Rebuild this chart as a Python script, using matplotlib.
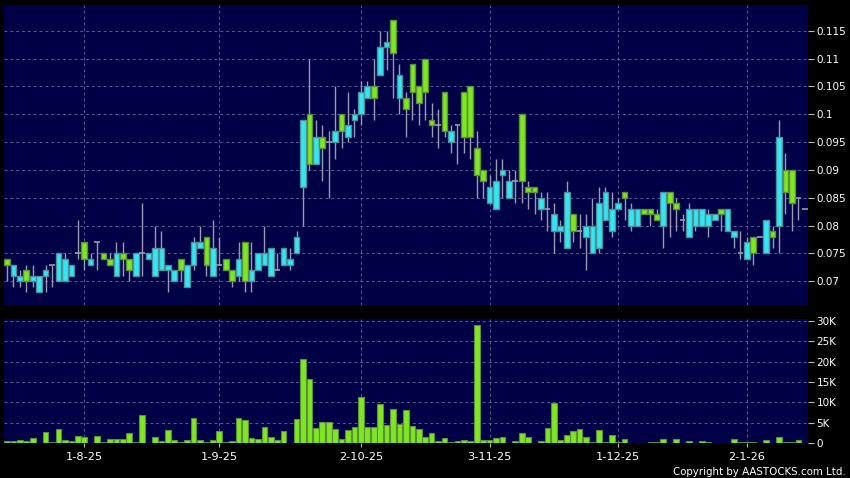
import matplotlib
matplotlib.use("Agg")
import matplotlib.pyplot as plt

# daily OHLC (HKD) and volume (thousand shares), mid-Jul 2025 .. mid-Jan 2026
opens = [0.074, 0.071, 0.070, 0.072, 0.070, 0.068, 0.071, 0.073, 0.070, 0.070,
         0.071, 0.075, 0.077, 0.073, 0.077, 0.075, 0.074, 0.071, 0.075, 0.074,
         0.071, 0.075, 0.074, 0.071, 0.072, 0.072, 0.070, 0.074, 0.069, 0.073,
         0.076, 0.078, 0.071, 0.073, 0.074, 0.072, 0.071, 0.077, 0.070, 0.072,
         0.073, 0.071, 0.072, 0.073, 0.073, 0.075, 0.087, 0.100, 0.091, 0.096,
         0.095, 0.095, 0.100, 0.096, 0.099, 0.100, 0.103, 0.105, 0.107, 0.112,
         0.117, 0.103, 0.103, 0.109, 0.105, 0.110, 0.099, 0.098, 0.104, 0.095,
         0.098, 0.104, 0.105, 0.094, 0.090, 0.084, 0.083, 0.089, 0.085, 0.088,
         0.100, 0.087, 0.087, 0.083, 0.083, 0.079, 0.079, 0.076, 0.082, 0.079,
         0.078, 0.075, 0.076, 0.081, 0.079, 0.083, 0.086, 0.080, 0.080, 0.083,
         0.083, 0.082, 0.080, 0.086, 0.084, 0.081, 0.078, 0.080, 0.080, 0.080,
         0.081, 0.083, 0.079, 0.078, 0.075, 0.074, 0.078, 0.078, 0.075, 0.079,
         0.080, 0.090, 0.090, 0.085, 0.083]
highs = [0.074, 0.073, 0.072, 0.073, 0.073, 0.071, 0.073, 0.073, 0.075, 0.075,
         0.073, 0.081, 0.077, 0.075, 0.077, 0.075, 0.075, 0.077, 0.077, 0.074,
         0.075, 0.084, 0.075, 0.080, 0.079, 0.073, 0.072, 0.074, 0.073, 0.078,
         0.080, 0.078, 0.081, 0.078, 0.074, 0.072, 0.077, 0.077, 0.077, 0.075,
         0.080, 0.076, 0.075, 0.076, 0.076, 0.079, 0.099, 0.110, 0.099, 0.098,
         0.097, 0.105, 0.100, 0.104, 0.101, 0.106, 0.106, 0.110, 0.115, 0.115,
         0.117, 0.109, 0.104, 0.109, 0.105, 0.110, 0.102, 0.101, 0.104, 0.098,
         0.098, 0.104, 0.105, 0.097, 0.090, 0.089, 0.092, 0.092, 0.090, 0.090,
         0.100, 0.088, 0.087, 0.086, 0.086, 0.084, 0.081, 0.088, 0.082, 0.082,
         0.082, 0.085, 0.087, 0.087, 0.086, 0.085, 0.086, 0.084, 0.083, 0.083,
         0.083, 0.083, 0.086, 0.086, 0.085, 0.082, 0.084, 0.083, 0.083, 0.083,
         0.082, 0.083, 0.083, 0.079, 0.079, 0.078, 0.078, 0.078, 0.081, 0.080,
         0.099, 0.093, 0.090, 0.085, 0.083]
lows = [0.070, 0.069, 0.069, 0.068, 0.069, 0.068, 0.068, 0.069, 0.070, 0.070,
        0.071, 0.074, 0.072, 0.073, 0.072, 0.074, 0.073, 0.071, 0.071, 0.070,
        0.071, 0.071, 0.074, 0.071, 0.072, 0.068, 0.070, 0.070, 0.069, 0.072,
        0.076, 0.071, 0.071, 0.073, 0.072, 0.069, 0.070, 0.068, 0.068, 0.072,
        0.073, 0.071, 0.072, 0.073, 0.072, 0.075, 0.080, 0.090, 0.091, 0.088,
        0.085, 0.092, 0.094, 0.095, 0.096, 0.098, 0.103, 0.099, 0.107, 0.108,
        0.103, 0.100, 0.096, 0.099, 0.098, 0.099, 0.096, 0.094, 0.096, 0.093,
        0.091, 0.093, 0.092, 0.085, 0.085, 0.084, 0.083, 0.085, 0.085, 0.084,
        0.084, 0.083, 0.082, 0.081, 0.079, 0.075, 0.077, 0.076, 0.077, 0.076,
        0.072, 0.075, 0.075, 0.081, 0.078, 0.083, 0.081, 0.079, 0.080, 0.082,
        0.080, 0.081, 0.076, 0.078, 0.079, 0.079, 0.078, 0.079, 0.080, 0.078,
        0.081, 0.079, 0.079, 0.076, 0.074, 0.074, 0.073, 0.078, 0.075, 0.076,
        0.075, 0.082, 0.079, 0.081, 0.083]
closes = [0.073, 0.073, 0.071, 0.070, 0.071, 0.071, 0.072, 0.073, 0.075, 0.074,
          0.073, 0.075, 0.074, 0.074, 0.077, 0.074, 0.073, 0.075, 0.074, 0.072,
          0.075, 0.075, 0.075, 0.076, 0.076, 0.073, 0.072, 0.072, 0.073, 0.077,
          0.077, 0.073, 0.076, 0.073, 0.072, 0.070, 0.074, 0.070, 0.072, 0.075,
          0.075, 0.076, 0.072, 0.076, 0.074, 0.078, 0.099, 0.091, 0.096, 0.094,
          0.095, 0.097, 0.097, 0.098, 0.100, 0.104, 0.105, 0.103, 0.112, 0.113,
          0.111, 0.107, 0.101, 0.104, 0.102, 0.104, 0.098, 0.098, 0.097, 0.097,
          0.098, 0.096, 0.096, 0.089, 0.088, 0.087, 0.088, 0.090, 0.088, 0.088,
          0.088, 0.086, 0.086, 0.085, 0.083, 0.082, 0.080, 0.086, 0.079, 0.079,
          0.080, 0.080, 0.084, 0.086, 0.083, 0.084, 0.085, 0.083, 0.083, 0.082,
          0.082, 0.081, 0.086, 0.084, 0.083, 0.081, 0.083, 0.083, 0.083, 0.082,
          0.082, 0.082, 0.083, 0.079, 0.075, 0.077, 0.075, 0.078, 0.081, 0.078,
          0.096, 0.086, 0.084, 0.085, 0.083]
volumes = [0.65, 0.65, 0.7, 0.6, 1.2, 0.1, 2.7, 0.25, 3.5, 0.8,
           0.6, 1.7, 1.5, 0.1, 1.8, 0.4, 1.1, 1.1, 1.1, 2.5,
           0.3, 6.9, 0.1, 1.5, 0.5, 3.2, 0.8, 0.25, 0.8, 6.1,
           0.8, 0.25, 0.8, 3.0, 0.25, 0.6, 6.3, 5.7, 1.2, 1.0,
           4.0, 1.6, 0.7, 2.9, 0.1, 5.9, 20.5, 15.8, 3.8, 5.2,
           5.1, 3.4, 1.0, 3.3, 4.1, 11.4, 3.9, 4.0, 9.6, 4.5,
           8.3, 4.8, 8.1, 4.2, 3.6, 1.5, 2.4, 0.6, 1.4, 0.3,
           0.6, 0.7, 0.5, 28.9, 0.8, 0.8, 1.2, 1.5, 0.1, 0.6,
           2.5, 1.5, 0.0, 0.5, 3.7, 9.9, 0.7, 2.1, 2.9, 3.6,
           1.6, 0.25, 3.3, 0.25, 2.0, 0.25, 1.0, 0.05, 0.05, 0.05,
           0.25, 0.25, 1.1, 0.15, 1.0, 0.05, 0.6, 0.15, 0.6, 0.25,
           0.05, 0.05, 0.05, 1.0, 0.25, 0.25, 0.25, 0.05, 0.7, 0.05,
           1.5, 0.3, 0.4, 0.7, 0.0]
tick_idx = [12, 33, 55, 75, 95, 115]
tick_labels = ['1-8-25', '1-9-25', '2-10-25', '3-11-25', '1-12-25', '2-1-26']
price_ticks = [0.07, 0.075, 0.08, 0.085, 0.09, 0.095, 0.1, 0.105, 0.11, 0.115]
vol_ticks = [0, 5, 10, 15, 20, 25, 30]

navy = '#000046'
up_col, up_edge = '#33e6f2', '#4f8f9a'
dn_col, dn_edge = '#7ee622', '#5b8f3a'
wick_col = '#9a9ab4'
grid_col = '#5a5a96'

fig = plt.figure(figsize=(8.5, 4.78), dpi=100, facecolor='black')
ax = fig.add_axes([4 / 850, 1 - 305 / 478, 804 / 850, 300 / 478])
axv = fig.add_axes([4 / 850, 1 - 443.3 / 478, 804 / 850, 124.3 / 478])

x = list(range(len(opens)))
w = 0.88
for a in (ax, axv):
    a.set_facecolor(navy)
    a.set_xlim(-0.47, 124.5)
    a.set_xticks(tick_idx)
    a.grid(True, color=grid_col, linestyle=(0, (3, 3)), linewidth=0.7)
    a.set_axisbelow(True)
    for s in a.spines.values():
        s.set_visible(False)
    a.yaxis.tick_right()
    a.tick_params(axis='y', colors='#bbbbbb', labelcolor='white', length=4,
                  labelsize=7.5, pad=2)

# price candles
ax.vlines(x, lows, highs, color=wick_col, linewidth=1, zorder=2)
for i in x:
    o, c = opens[i], closes[i]
    if o == c:
        ax.hlines(o, i - w / 2, i + w / 2, color=wick_col, linewidth=1.2, zorder=3)
    elif c > o:
        ax.bar(i, c - o, bottom=o, width=w, color=up_col, edgecolor=up_edge,
               linewidth=1, zorder=3)
    else:
        ax.bar(i, o - c, bottom=c, width=w, color=dn_col, edgecolor=dn_edge,
               linewidth=1, zorder=3)
ax.set_ylim(0.06574, 0.11962)
ax.set_yticks(price_ticks)
ax.set_yticklabels(['%g' % v for v in price_ticks])
ax.tick_params(axis='x', length=0, labelbottom=False)

# volume
axv.bar(x, volumes, width=w, color=dn_col, edgecolor=dn_edge, linewidth=0.8, zorder=3)
axv.set_ylim(0, 30.4)
axv.set_yticks(vol_ticks)
axv.set_yticklabels(['0' if v == 0 else '%dK' % v for v in vol_ticks])
axv.set_xticklabels(tick_labels)
axv.tick_params(axis='x', colors='#bbbbbb', labelcolor='white', length=3,
                labelsize=8.2, pad=3)

fig.text(846 / 850, 1 - 472 / 478, 'Copyright by AASTOCKS.com Ltd.', color='white',
         fontsize=7.4, ha='right', va='center')

fig.savefig('out.png', dpi=100, facecolor='black')
